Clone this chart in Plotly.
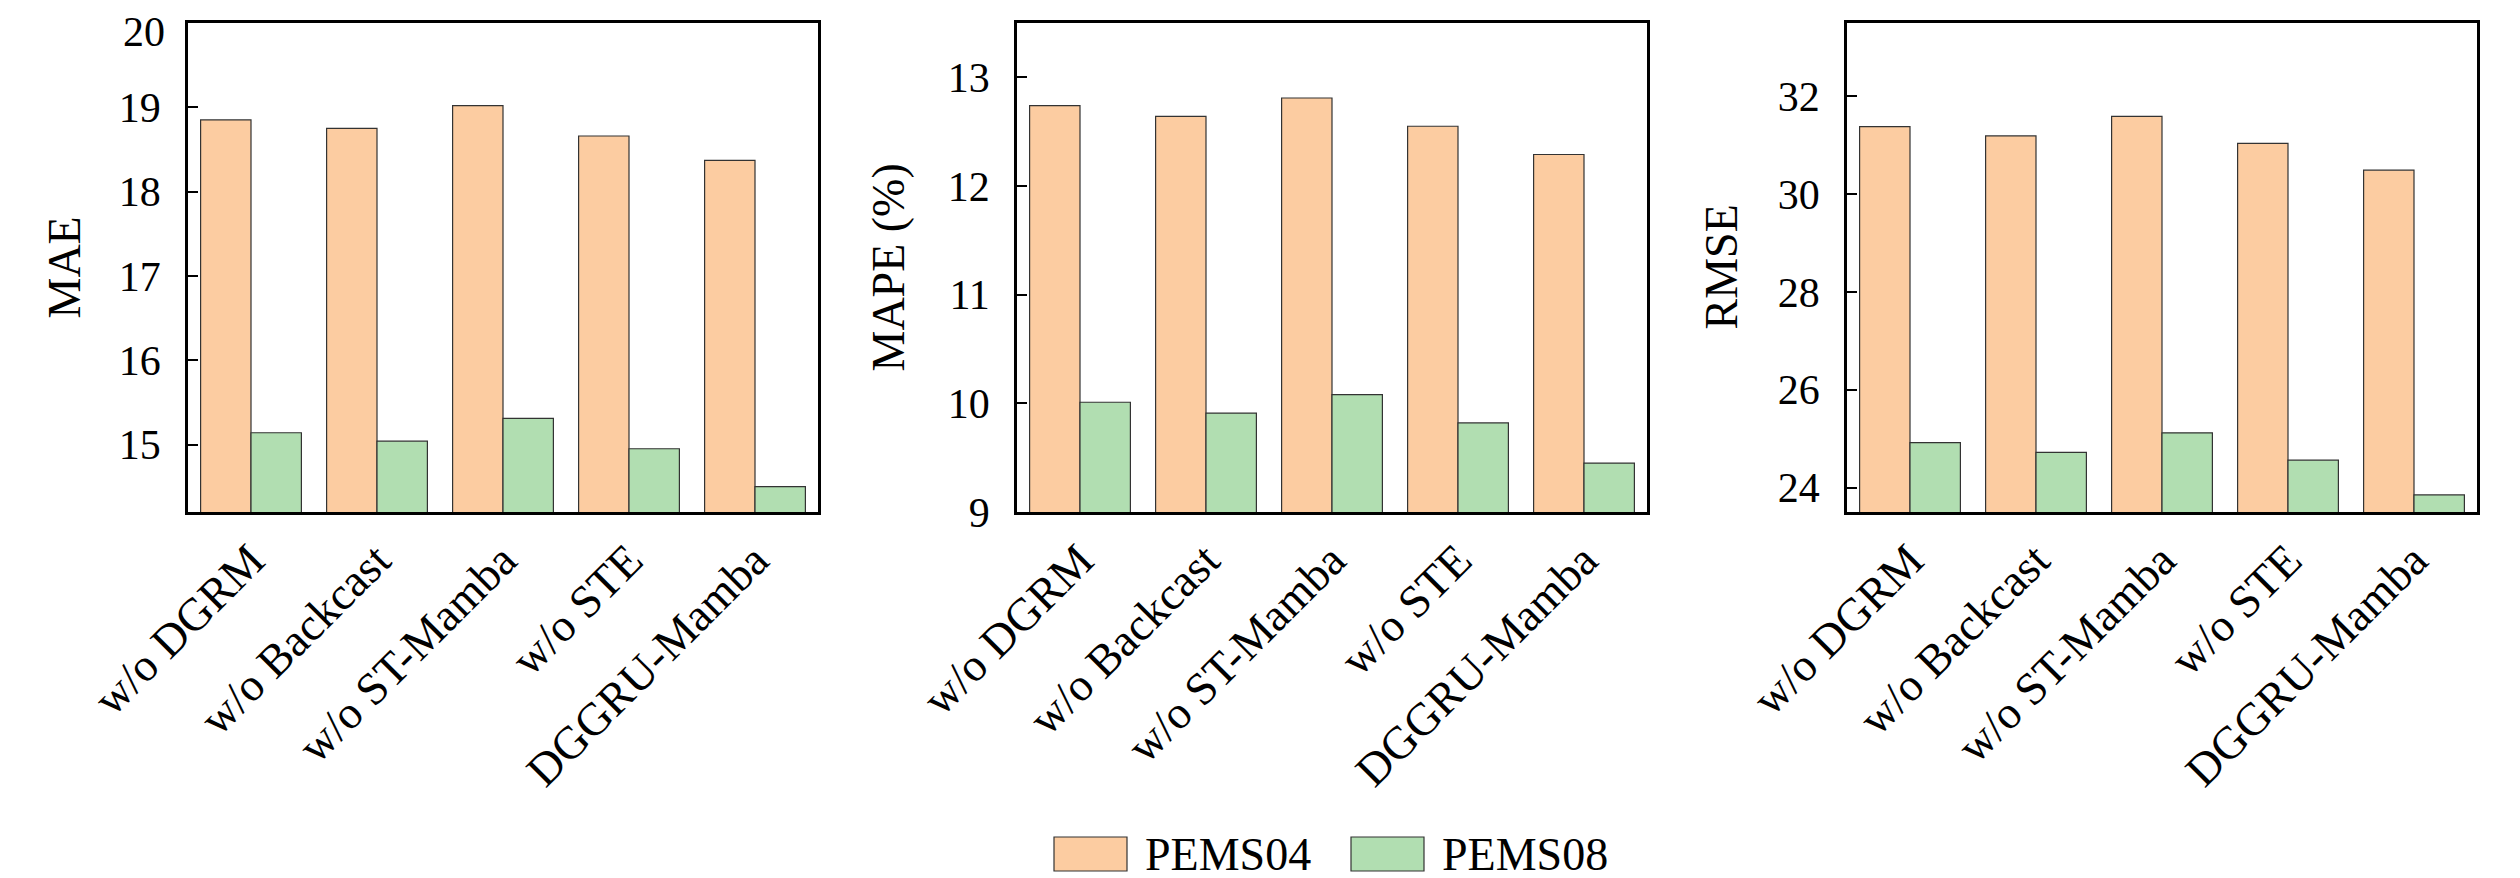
import plotly.graph_objects as go
from plotly.subplots import make_subplots

# ablation results
categories = ["w/o DGRM", "w/o Backcast", "w/o ST-Mamba", "w/o STE", "DGGRU-Mamba"]
mae_pems04 = [18.85, 18.75, 19.02, 18.66, 18.37]
mae_pems08 = [15.14, 15.04, 15.31, 14.95, 14.50]
mape_pems04 = [12.74, 12.64, 12.81, 12.55, 12.29]
mape_pems08 = [10.01, 9.91, 10.08, 9.82, 9.45]
rmse_pems04 = [31.38, 31.19, 31.59, 31.04, 30.49]
rmse_pems08 = [24.92, 24.72, 25.12, 24.56, 23.85]

metric_names = ["MAE", "MAPE (%)", "RMSE"]
y_ranges = [[14.2, 20], [9, 13.5], [23.5, 33.5]]
y_ticks = [[15, 16, 17, 18, 19, 20], [9, 10, 11, 12, 13], [24, 26, 28, 30, 32]]

W, H = 2520, 878
OFF = 8  # page body margin the figure sits inside
ORANGE = "#FCCCA1"
GREEN = "#B1DEB1"
EDGE = "#333333"
FONT = "Liberation Serif"


def px(x):
    return (x - OFF) / W


def py(y):
    return 1 - (y - OFF) / H


fig = make_subplots(rows=1, cols=3)

series = [(mae_pems04, mae_pems08), (mape_pems04, mape_pems08), (rmse_pems04, rmse_pems08)]
for i, (a, b) in enumerate(series):
    fig.add_trace(go.Bar(x=categories, y=a, name="PEMS04",
                         marker=dict(color=ORANGE, line=dict(color=EDGE, width=1.2)),
                         showlegend=False), row=1, col=i + 1)
    fig.add_trace(go.Bar(x=categories, y=b, name="PEMS08",
                         marker=dict(color=GREEN, line=dict(color=EDGE, width=1.2)),
                         showlegend=False), row=1, col=i + 1)

# plot areas in screen pixels (left, right)
panels = [(188, 818), (1017, 1647), (1847, 2477)]
top, bottom = 23, 512
title_x = [64, 888, 1721]

for i, (l, r) in enumerate(panels):
    xa = "xaxis" if i == 0 else f"xaxis{i + 1}"
    ya = "yaxis" if i == 0 else f"yaxis{i + 1}"
    fig.layout[xa].update(
        domain=[px(l), px(r)], showline=True, linewidth=2.5, linecolor="black", mirror=True,
        ticks="", tickangle=-45, tickfont=dict(family=FONT, size=46, color="black"),
        showgrid=False, zeroline=False, automargin=False,
    )
    fig.layout[ya].update(
        domain=[py(bottom), py(top)], range=y_ranges[i], tickvals=y_ticks[i],
        showline=True, linewidth=2.5, linecolor="black", mirror=True,
        ticks="inside", ticklen=10, tickwidth=2, tickcolor="black", ticklabelstandoff=16,
        tickfont=dict(family=FONT, size=42, color="black"),
        showgrid=False, zeroline=False, automargin=False,
    )
    fig.add_annotation(x=px(title_x[i]), y=py((top + bottom) / 2), xref="paper", yref="paper",
                       text=metric_names[i], textangle=-90, showarrow=False,
                       xanchor="center", yanchor="middle",
                       font=dict(family=FONT, size=46, color="black"))

# plotly drops the tick label sitting on the very top edge, so put it back as text
top_tick = y_ticks[0][-1]
fig.add_annotation(x=px(166), y=1, xref="paper", yref="paper", text=str(top_tick),
                   showarrow=False, xanchor="right", yanchor="top", borderpad=0,
                   font=dict(family=FONT, size=42, color="black"))

# legend drawn by hand so the patches match the reference size
legend_items = [("PEMS04", ORANGE, 1054, 1143), ("PEMS08", GREEN, 1351, 1440)]
for name, color, bx, tx in legend_items:
    fig.add_shape(type="rect", xref="paper", yref="paper",
                  x0=px(bx), x1=px(bx + 73), y0=py(871), y1=py(837),
                  fillcolor=color, line=dict(color=EDGE, width=1.2))
    fig.add_annotation(x=px(tx), y=py(854), xref="paper", yref="paper", text=name,
                       showarrow=False, xanchor="left", yanchor="middle",
                       font=dict(family=FONT, size=46, color="black"))

fig.update_layout(
    width=W, height=H, barmode="group", bargap=0.2, bargroupgap=0,
    margin=dict(l=0, r=0, t=0, b=0),
    plot_bgcolor="white", paper_bgcolor="white",
    showlegend=False,
)

fig.write_html("out.html")
